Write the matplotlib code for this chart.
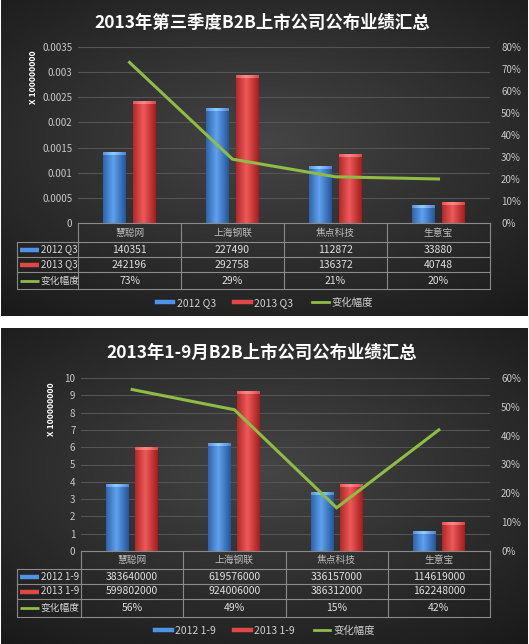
import numpy as np
import matplotlib
matplotlib.use("Agg")
import matplotlib.pyplot as plt
from matplotlib.lines import Line2D
from matplotlib.ticker import FuncFormatter, MultipleLocator

plt.rcParams['font.family'] = ['Noto Sans CJK SC', 'DejaVu Sans']

## data
companies = ['慧聪网', '上海钢联', '焦点科技', '生意宝']

q3_title = '2013年第三季度B2B上市公司公布业绩汇总'
q3_labels = ['2012 Q3', '2013 Q3', '变化幅度']
q3_2012 = [140351, 227490, 112872, 33880]
q3_2013 = [242196, 292758, 136372, 40748]
q3_change = [0.73, 0.29, 0.21, 0.20]
q3_change_txt = ['73%', '29%', '21%', '20%']

ytd_title = '2013年1-9月B2B上市公司公布业绩汇总'
ytd_labels = ['2012 1-9', '2013 1-9', '变化幅度']
ytd_2012 = [383640000, 619576000, 336157000, 114619000]
ytd_2013 = [599802000, 924006000, 386312000, 162248000]
ytd_change = [0.56, 0.49, 0.15, 0.42]
ytd_change_txt = ['56%', '49%', '15%', '42%']

scale = 100000000

W, H = 529, 644
BLUE = '#3d80d6'
RED = '#d93636'
GREEN = '#8fbc45'
GRID = '#545454'
TXT = '#c8c8c8'
LINEC = '#8a8a8a'

fig = plt.figure(figsize=(W / 100, H / 100), dpi=100)
fig.patch.set_facecolor('white')


def fx(px):
    return px / W


def fy(py):
    return 1 - py / H


def background(top, bottom):
    bg = fig.add_axes([fx(1), fy(bottom), fx(527), (bottom - top) / H])
    yy, xx = np.mgrid[-1:1:200j, -1:1:200j]
    r = np.sqrt(xx ** 2 * 0.8 + (yy + 0.1) ** 2)
    img = np.clip(1 - r / 1.5, 0, 1)
    c0 = np.array([0.09, 0.09, 0.09])
    c1 = np.array([0.27, 0.27, 0.27])
    rgb = c0 + (c1 - c0) * img[..., None]
    bg.imshow(rgb, extent=[0, 1, 0, 1], aspect='auto')
    bg.set_axis_off()
    bg.set_zorder(-5)


def shade_bars(ax, bars, dark, light, cap_px):
    y0, y1 = ax.get_ylim()
    hpx = ax.get_position().height * H
    dpp = (y1 - y0) / hpx
    grad = np.linspace(0, 1, 64)
    prof = 1 - np.abs(grad - 0.45) * 1.8
    prof = np.clip(prof, 0, 1)
    dark = np.array(matplotlib.colors.to_rgb(dark))
    light = np.array(matplotlib.colors.to_rgb(light))
    row = dark + (light - dark) * prof[:, None]
    img = row[None, :, :]
    for b in bars:
        x, w, h = b.get_x(), b.get_width(), b.get_height()
        im = ax.imshow(img, extent=[x, x + w, 0, h], aspect='auto', zorder=3)
        im.set_clip_path(b)
        cap = cap_px * dpp
        capimg = np.clip(row[None, :, :] + 0.18, 0, 1)
        ax.imshow(capimg, extent=[x, x + w, h - cap, h], aspect='auto', zorder=4)
    ax.set_ylim(y0, y1)


def panel(top, bottom, title, title_y, ax_left, ax_top, ax_bottom, ymax, ystep,
          fmt, rmax, v12, v13, chg, chg_txt, labels, lab_y, rows, legend_y):
    background(top, bottom)
    fig.text(fx(262), fy(title_y), title, ha='center', va='center',
             fontsize=12.5, fontweight='bold', color='white')

    ax = fig.add_axes([fx(ax_left), fy(ax_bottom), fx(490 - ax_left),
                       (ax_bottom - ax_top) / H])
    ax.set_facecolor('none')
    x = np.arange(len(companies))
    ax.set_xlim(-0.5, len(companies) - 0.5)
    ax.set_ylim(0, ymax)
    ax.yaxis.set_major_locator(MultipleLocator(ystep))
    ax.yaxis.set_major_formatter(FuncFormatter(fmt))
    ax.grid(axis='y', color=GRID, lw=0.8)
    ax.set_axisbelow(True)
    ax.set_xticks([])
    ax.tick_params(axis='y', length=0, labelsize=7, labelcolor=TXT, pad=4)
    for s in ax.spines.values():
        s.set_visible(False)

    b1 = ax.bar(x - 0.145, np.array(v12) / scale, 0.22, color=BLUE, zorder=2)
    b2 = ax.bar(x + 0.14, np.array(v13) / scale, 0.22, color=RED, zorder=2)
    shade_bars(ax, b1, '#24549a', '#5fa2ee', 2.5)
    shade_bars(ax, b2, '#a31c1c', '#ee5a5a', 2.5)

    ax2 = ax.twinx()
    ax2.set_ylim(0, rmax)
    ax2.yaxis.set_major_locator(MultipleLocator(0.1))
    ax2.yaxis.set_major_formatter(FuncFormatter(lambda v, p: '{:.0f}%'.format(v * 100)))
    ax2.tick_params(axis='y', length=0, labelsize=7, labelcolor=TXT, pad=8)
    for s in ax2.spines.values():
        s.set_visible(False)
    ax2.plot(x, chg, color=GREEN, lw=2.2, zorder=5, solid_joinstyle='miter')

    fig.text(fx(lab_y[0]), fy(lab_y[1]), 'X 100000000', rotation=90,
             ha='center', va='top', fontsize=6.3, color='white', fontweight='bold')

    # table drawn under the plot
    ov = fig.add_axes([0, 0, 1, 1])
    ov.set_xlim(0, W)
    ov.set_ylim(H, 0)
    ov.set_axis_off()
    ov.set_zorder(10)
    r0, r1, r2, r3, r4 = rows
    cols = np.linspace(ax_left, 490, len(companies) + 1)
    kw = dict(color=LINEC, lw=0.8)
    ov.plot([ax_left, 490], [r0, r0], **kw)
    for yy in (r1, r2, r3, r4):
        ov.plot([17, 490], [yy, yy], **kw)
    for xx in cols:
        ov.plot([xx, xx], [r0, r4], **kw)
    ov.plot([17, 17], [r1, r4], **kw)
    centers = (cols[:-1] + cols[1:]) / 2
    for cx, name in zip(centers, companies):
        ov.text(cx, (r0 + r1) / 2, name, ha='center', va='center',
                fontsize=7, color='#bdbdbd')
    row_y = [(r1 + r2) / 2, (r2 + r3) / 2, (r3 + r4) / 2]
    vals = [[str(v) for v in v12], [str(v) for v in v13], chg_txt]
    keys = [('#4f93e6', 3.2), ('#e04848', 3.2), (GREEN, 2)]
    for ry, lab, rv, (kc, klw) in zip(row_y, labels, vals, keys):
        ov.plot([20, 39], [ry, ry], color=kc, lw=klw, solid_capstyle='butt')
        ov.text(41, ry, lab, ha='left', va='center', fontsize=7, color='#d8d8d8')
        for cx, t in zip(centers, rv):
            ov.text(cx, ry, t, ha='center', va='center', fontsize=7.5, color='#e0e0e0')

    handles = [Line2D([], [], color='#4f93e6', lw=3.2),
               Line2D([], [], color='#e04848', lw=3.2),
               Line2D([], [], color=GREEN, lw=2)]
    fig.legend(handles, labels, loc='center', ncol=3, frameon=False,
               bbox_to_anchor=(fx(265), fy(legend_y)), fontsize=7.5,
               labelcolor='#d0d0d0', handlelength=1.6, handletextpad=0.3,
               columnspacing=1.8)


panel(0, 316, q3_title, 23, 78, 47, 223, 0.0035, 0.0005,
      lambda v, p: '{:g}'.format(round(v, 6)), 0.8,
      q3_2012, q3_2013, q3_change, q3_change_txt, q3_labels,
      (33, 50), (223, 242, 257, 272, 289), 303)

panel(328, 644, ytd_title, 353, 81, 378, 551, 10, 1,
      lambda v, p: '{:g}'.format(v), 0.6,
      ytd_2012, ytd_2013, ytd_change, ytd_change_txt, ytd_labels,
      (51, 382), (551, 569, 584, 599, 617), 631)

fig.savefig('out.png', dpi=100)
